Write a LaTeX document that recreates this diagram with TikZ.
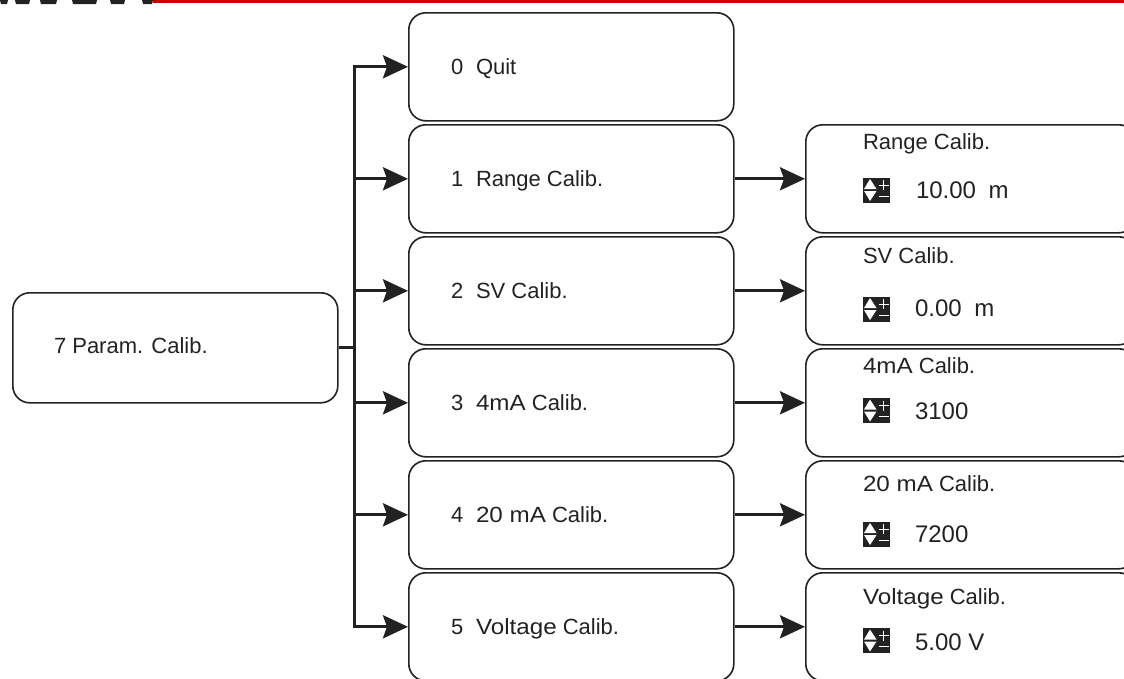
\documentclass[tikz,border=0pt]{standalone}
\usepackage{fontspec}
\setmainfont{Liberation Sans}
\newfontfamily\wideA[FakeStretch=1.1]{Liberation Sans}
\usetikzlibrary{arrows.meta}
\definecolor{ink}{HTML}{222222}
\definecolor{redbar}{HTML}{C80000}
\tikzset{
  x=1pt,y=-1pt,
  boxshape/.style={draw=ink,line width=1.6pt,rounded corners=17pt},
  wire/.style={draw=ink,line width=3.2pt},
  arrowline/.style={wire,-{Stealth[length=25pt,width=23pt,inset=4pt]}},
  lab/.style={anchor=base west,inner sep=0pt,outer sep=0pt,text=ink,font=\fontsize{22}{24}\selectfont},
  val/.style={lab,font=\fontsize{24}{24}\selectfont}
}
\newcommand{\bigw}[1]{{\wideA\fontsize{22}{24}\selectfont #1}}
\newcommand{\updown}[2]{%
  \fill[ink] (#1-13.5,#2-12.5) rectangle (#1+13.5,#2+12.5);
  \fill[white] (#1-6.5,#2-11) -- (#1,#2-1) -- (#1-12.5,#2-1) -- cycle;
  \fill[white] (#1-6.5,#2+11) -- (#1,#2+1) -- (#1-12.5,#2+1) -- cycle;
  \draw[white,line width=1pt] (#1+2,#2-5) -- (#1+12,#2-5) (#1+7,#2-10) -- (#1+7,#2) (#1+2,#2+6) -- (#1+12,#2+6);
}
\begin{document}
\begin{tikzpicture}
\useasboundingbox (0,0) rectangle (1124,678);
\begin{scope}
\clip (0,0) rectangle (1124,678);
% header remnants
\fill[redbar] (153,0) rectangle (1124,3);
\foreach \a/\b in {0/8,15/30,40/57,72/97,110/125,142/153}{
  \fill[ink] (\a,0) -- (\b,0) -- (\b-1,4) -- (\a+1,4) -- cycle;
}
% boxes
\node[boxshape,minimum width=325pt,minimum height=110pt,anchor=north west] (root) at (12,292) {};
\foreach \n/\y in {0/12,1/124,2/236,3/348,4/460,5/572}{
  \node[boxshape,minimum width=325pt,minimum height=108pt,anchor=north west] (m\n) at (408,\y) {};
}
\foreach \n/\y in {1/124,2/236,3/348,4/460,5/572}{
  \node[boxshape,minimum width=330pt,minimum height=108pt,anchor=north west] (r\n) at (805,\y) {};
}
\coordinate (bus) at (354.5,347);
\draw[wire] (root.east) -- (root.east -| bus);
\draw[wire,line cap=rect] (m0.west -| bus) -- (m5.west -| bus);
\foreach \n in {0,...,5}{ \draw[arrowline] (m\n.west -| bus) -- (m\n.west); }
\foreach \n in {1,...,5}{ \draw[arrowline] (m\n.east) -- (r\n.west); }
% labels
\node[lab] (t0) at (54,353) {7 Param. Calib.};
\node[lab] (d0) at (451,74) {0};
\node[lab] (d1) at (451,186) {1};
\node[lab] (d2) at (451,298) {2};
\node[lab] (d3) at (451,410) {3};
\node[lab] (d4) at (451,522) {4};
\node[lab] (d5) at (451,634) {5};
\node[lab] (a0) at (476,74) {Quit};
\node[lab] (a1) at (476,186) {Range Calib.};
\node[lab] (a2) at (476,298) {SV Calib.};
\node[lab] (a3) at (476,410) {\bigw{4mA} Calib.};
\node[lab] (a4) at (476,522) {\bigw{20 mA} Calib.};
\node[lab] (a5) at (476,634) {\bigw{Voltage} Calib.};
\node[lab] (b1) at (863,149) {Range Calib.};
\node[lab] (b2) at (863,263) {SV Calib.};
\node[lab] (b3) at (863,373) {\bigw{4mA} Calib.};
\node[lab] (b4) at (863,491) {\bigw{20 mA} Calib.};
\node[lab] (b5) at (863,604) {\bigw{Voltage} Calib.};
\node[val] (v1) at (916,198) {10.00\hspace{6pt} m};
\node[val] (v2) at (915,316) {0.00\hspace{6pt} m};
\node[val] (v3) at (915,419) {3100};
\node[val] (v4) at (915,542) {7200};
\node[val] (v5) at (915,650) {5.00 V};
\updown{876.5}{190}
\updown{876.5}{309}
\updown{876.5}{410.5}
\updown{876.5}{534}
\updown{876.5}{640.5}
\end{scope}
\end{tikzpicture}
\end{document}
